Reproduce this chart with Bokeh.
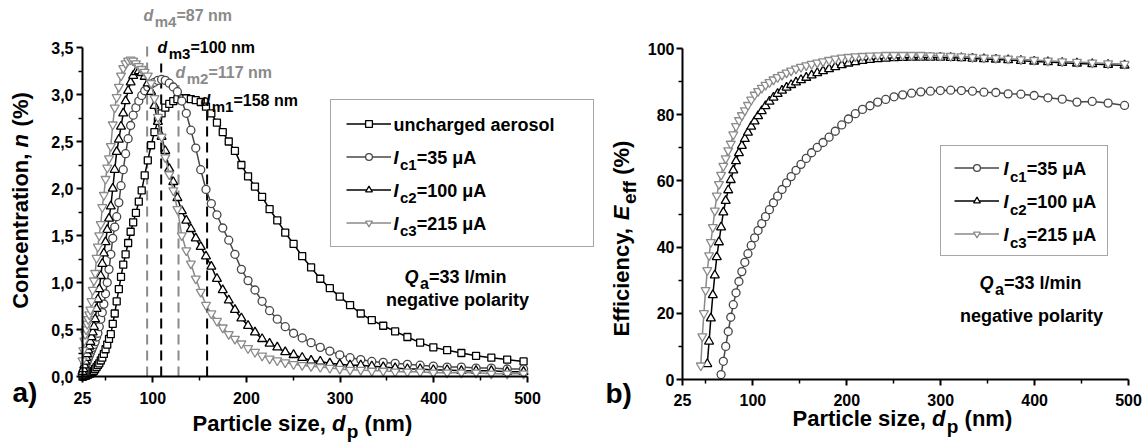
import math
from bokeh.plotting import figure
from bokeh.models import (Label, Legend, LegendItem, FixedTicker, LinearAxis, Range1d,
                          CustomJSTickFormatter, ColumnDataSource)
from bokeh.embed import file_html
from bokeh.resources import INLINE

FONT = "Liberation Sans"

# ---------------- data ----------------
d_nm = [25.0, 25.9, 26.9, 27.9, 28.9, 30.0, 31.1, 32.2, 33.4, 34.6, 35.9, 37.2,
        38.5, 40.0, 41.4, 42.9, 44.5, 46.1, 47.8, 49.6, 51.4, 53.3, 55.2, 57.3,
        59.4, 61.5, 63.8, 66.1, 68.5, 71.0, 73.7, 76.4, 79.1, 82.0, 85.1, 88.2,
        91.4, 94.7, 98.2, 101.8, 105.5, 109.4, 113.4, 117.6, 121.9, 126.3, 131.0, 135.8,
        140.7, 145.9, 151.2, 156.8, 162.5, 168.5, 174.7, 181.1, 187.7, 194.6, 201.7, 209.1,
        216.7, 224.7, 232.9, 241.4, 250.3, 259.5, 269.0, 278.8, 289.0, 299.6, 310.6, 322.0,
        333.8, 346.0, 358.7, 371.8, 385.4, 399.5, 414.2, 429.4, 445.1, 461.4, 478.3, 495.8]

n_uncharged = [0.00, 0.00, 0.01, 0.01, 0.01, 0.02, 0.02, 0.03, 0.03, 0.04, 0.05, 0.06,
               0.08, 0.10, 0.12, 0.14, 0.17, 0.20, 0.24, 0.29, 0.34, 0.40, 0.45, 0.56,
               0.67, 0.80, 0.93, 1.06, 1.19, 1.30, 1.42, 1.54, 1.64, 1.74, 1.86, 1.98,
               2.14, 2.30, 2.46, 2.60, 2.72, 2.80, 2.86, 2.90, 2.93, 2.95, 2.96, 2.96,
               2.95, 2.94, 2.92, 2.87, 2.80, 2.70, 2.60, 2.50, 2.40, 2.25, 2.13, 2.02,
               1.91, 1.78, 1.66, 1.53, 1.41, 1.28, 1.16, 1.04, 0.94, 0.85, 0.76, 0.67,
               0.60, 0.54, 0.48, 0.42, 0.36, 0.31, 0.28, 0.25, 0.22, 0.20, 0.18, 0.16]

n_ic1 = [0.03, 0.05, 0.07, 0.10, 0.13, 0.16, 0.19, 0.22, 0.25, 0.28, 0.31, 0.34,
         0.37, 0.42, 0.46, 0.53, 0.61, 0.68, 0.77, 0.88, 1.00, 1.14, 1.30, 1.47,
         1.59, 1.70, 1.85, 2.03, 2.20, 2.37, 2.53, 2.67, 2.78, 2.86, 2.93, 2.99,
         3.04, 3.08, 3.11, 3.13, 3.15, 3.16, 3.15, 3.12, 3.08, 3.03, 2.93, 2.80,
         2.62, 2.43, 2.20, 1.99, 1.84, 1.72, 1.58, 1.45, 1.30, 1.14, 1.02, 0.92,
         0.80, 0.70, 0.61, 0.53, 0.46, 0.41, 0.36, 0.31, 0.27, 0.23, 0.20, 0.18,
         0.16, 0.15, 0.14, 0.13, 0.12, 0.11, 0.10, 0.10, 0.09, 0.09, 0.08, 0.08]

n_ic2 = [0.05, 0.08, 0.12, 0.16, 0.20, 0.24, 0.28, 0.32, 0.37, 0.42, 0.47, 0.53,
         0.61, 0.72, 0.82, 0.93, 1.07, 1.20, 1.31, 1.43, 1.56, 1.68, 1.81, 2.00,
         2.20, 2.39, 2.52, 2.66, 2.80, 2.93, 3.04, 3.13, 3.20, 3.24, 3.25, 3.23,
         3.19, 3.12, 3.03, 2.88, 2.71, 2.55, 2.40, 2.21, 2.07, 1.90, 1.76, 1.66,
         1.57, 1.47, 1.38, 1.28, 1.17, 1.04, 0.92, 0.81, 0.71, 0.62, 0.54, 0.47,
         0.40, 0.35, 0.31, 0.26, 0.23, 0.20, 0.17, 0.16, 0.14, 0.13, 0.12, 0.12,
         0.11, 0.10, 0.09, 0.08, 0.08, 0.07, 0.07, 0.06, 0.06, 0.06, 0.05, 0.05]

n_ic3 = [0.17, 0.28, 0.38, 0.45, 0.50, 0.56, 0.61, 0.66, 0.71, 0.80, 0.92, 1.02,
         1.10, 1.26, 1.38, 1.50, 1.62, 1.80, 1.93, 2.10, 2.22, 2.32, 2.45, 2.68,
         2.86, 2.97, 3.08, 3.20, 3.28, 3.33, 3.36, 3.37, 3.36, 3.33, 3.30, 3.27,
         3.24, 3.20, 3.12, 2.96, 2.76, 2.55, 2.33, 2.15, 1.98, 1.78, 1.50, 1.34,
         1.20, 1.04, 0.90, 0.76, 0.67, 0.59, 0.52, 0.45, 0.40, 0.35, 0.30, 0.26,
         0.22, 0.19, 0.17, 0.15, 0.13, 0.12, 0.11, 0.10, 0.09, 0.08, 0.07, 0.07,
         0.06, 0.06, 0.05, 0.05, 0.05, 0.04, 0.04, 0.04, 0.04, 0.03, 0.03, 0.03]

# efficiency curves (each starts at the channel where E first rises above 0)
eff_ic1 = [1.5, 5.5, 10.0, 14.5, 18.8, 22.6, 26.2, 29.6, 32.6, 35.4, 38.0, 40.5,
           42.8, 45.0, 47.1, 49.2, 51.3, 53.4, 55.4, 57.4, 59.4, 61.3, 63.2, 65.0,
           66.8, 68.5, 70.1, 71.6, 73.2, 75.0, 76.9, 78.7, 80.3, 81.6, 82.7, 83.8,
           84.6, 85.4, 86.0, 86.5, 86.9, 87.1, 87.3, 87.4, 87.3, 87.1, 86.8, 86.7,
           86.3, 86.2, 85.8, 85.1, 84.7, 83.8, 84.0, 83.5, 82.8]
eff_ic2 = [4.7, 11.5, 18.5, 25.5, 31.5, 37.0, 41.5, 46.0, 50.5, 54.0, 57.2, 60.3,
           63.2, 66.0, 68.4, 70.6, 72.7, 74.6, 76.4, 78.0, 79.6, 81.1, 82.6, 84.0,
           85.2, 86.3, 87.3, 88.2, 89.0, 89.8, 90.5, 91.2, 91.9, 92.6, 93.2, 93.8,
           94.4, 95.0, 95.5, 95.9, 96.3, 96.6, 96.8, 97.0, 97.1, 97.2, 97.3, 97.3,
           97.3, 97.3, 97.2, 97.1, 97.0, 96.8, 96.7, 96.5, 96.3, 96.1, 95.9, 95.7,
           95.5, 95.3, 95.1, 94.9]
eff_ic3 = [4.2, 13.0, 20.0, 27.0, 33.0, 37.5, 41.5, 46.0, 51.0, 55.5, 59.0, 61.8,
           64.5, 66.8, 69.2, 71.2, 74.0, 76.5, 78.3, 79.8, 81.3, 82.9, 84.5, 86.0,
           87.1, 88.1, 89.0, 89.8, 90.6, 91.3, 92.0, 92.7, 93.3, 93.9, 94.4, 94.9,
           95.3, 95.7, 96.1, 96.5, 96.9, 97.2, 97.4, 97.6, 97.7, 97.8, 97.9, 98.0,
           98.0, 98.0, 98.0, 98.0, 97.9, 97.8, 97.7, 97.6, 97.4, 97.2, 97.1, 96.9,
           96.7, 96.5, 96.3, 96.1, 95.9, 95.7, 95.5, 95.3]

x_ticks = [25, 100, 200, 300, 400, 500]
x_minor = [50, 150, 250, 350, 450]
n_ticks = [0, 0.5, 1.0, 1.5, 2.0, 2.5, 3.0, 3.5]
n_minor = [0.25, 0.75, 1.25, 1.75, 2.25, 2.75, 3.25]
e_ticks = [0, 20, 40, 60, 80, 100]
e_minor = [10, 30, 50, 70, 90]

dm_pos = [94, 109, 127.5, 158]
dm_top = [3.55, 3.33, 3.1, 2.85]
dm_sub = ["m4", "m3", "m2", "m1"]
dm_text = ["=87 nm", "=100 nm", "=117 nm", "=158 nm"]

ic_sub = ["c1", "c2", "c3"]
ic_text = ["=35 μA", "=100 μA", "=215 μA"]

C_UNC, C_IC1, C_IC2, C_IC3 = "#000000", "#474747", "#000000", "#8a8a8a"
DM_COLORS = [C_IC3, "#000000", C_IC3, "#000000"]

# ---------------- geometry (canvas pixels) ----------------
CW, CH = 1148, 445
L_X0, L_X1, L_Y0, L_Y1 = 82, 527, 376, 47      # left panel data box
R_X0, R_X1, R_Y0, R_Y1 = 682, 1128, 379, 48    # right panel data box
XR = (25, 500)
YL = (0, 3.5)
YR = (0, 100)


def span(p0, p1, v0, v1, lo, hi):
    k = (v1 - v0) / (p1 - p0)
    return v0 + (lo - p0) * k, v0 + (hi - p0) * k


lx = span(L_X0, L_X1, XR[0], XR[1], 0, CW)
ly = span(L_Y0, L_Y1, YL[0], YL[1], CH, 0)
rx = span(R_X0, R_X1, XR[0], XR[1], 0, CW)
ry = span(R_Y0, R_Y1, YR[0], YR[1], CH, 0)

# ---------------- text helpers ----------------
W = {' ': 278, '!': 333, '%': 889, '(': 333, ')': 333, ',': 278, '.': 278, '/': 278,
     '=': 584, 'A': 722, 'C': 722, 'E': 667, 'I': 278, 'P': 667, 'Q': 778,
     'a': 556, 'b': 611, 'c': 556, 'd': 611, 'e': 556, 'f': 333, 'g': 611, 'h': 611,
     'i': 278, 'l': 278, 'm': 889, 'n': 611, 'o': 611, 'p': 611, 'r': 389, 's': 556,
     't': 333, 'u': 611, 'v': 556, 'y': 556, 'z': 500, 'μ': 600}
for _c in "0123456789":
    W[_c] = 556


def tw(s, size):
    return sum(W.get(ch, 556) for ch in s) * size / 1000.0


def cv(px, py):
    x = lx[0] + px / CW * (lx[1] - lx[0])
    y = ly[0] + (CH - py) / CH * (ly[1] - ly[0])
    return x, y


def rich(p, px, py, parts, size, sub_size, sub_dy, color="black",
         align="left", vertical=False):
    widths = []
    for t, k in parts:
        s = sub_size if k == 's' else size
        widths.append(tw(t, s) + (1.5 if k == 'i' else 0))
    total = sum(widths)
    if vertical:
        cur = py + total / 2.0 if align == "center" else py
    else:
        cur = px - total / 2.0 if align == "center" else px
    for (t, k), w in zip(parts, widths):
        s = sub_size if k == 's' else size
        style = "bold italic" if k == 'i' else "bold"
        lead = len(t) - len(t.lstrip(" "))
        shift = tw(" " * lead, s)
        txt = t.strip(" ")
        if vertical:
            x, y = cv(px + (sub_dy if k == 's' else 0), cur - shift)
            ang = math.pi / 2
            cur -= w
        else:
            x, y = cv(cur + shift, py + (sub_dy if k == 's' else 0))
            ang = 0
            cur += w
        p.add_layout(Label(x=x, y=y, text=txt, text_font=FONT,
                           text_font_size=f"{s}px", text_font_style=style,
                           text_color=color, text_baseline="middle",
                           text_align="left", angle=ang, level="overlay"))


def style_axis(ax):
    ax.axis_line_width = 2
    ax.axis_line_color = "black"
    ax.major_tick_line_width = 2
    ax.minor_tick_line_width = 1.5
    ax.major_tick_in = 0
    ax.major_tick_out = 6
    ax.minor_tick_in = 0
    ax.minor_tick_out = 4
    ax.major_label_text_font = FONT
    ax.major_label_text_font_style = "bold"
    ax.major_label_text_font_size = "16px"
    ax.major_label_text_color = "black"


# ---------------- figure ----------------
p = figure(width=CW, height=CH, x_range=Range1d(*lx), y_range=Range1d(*ly),
           min_border=0, title=None, output_backend="svg", toolbar_location=None,
           background_fill_color="white", border_fill_color="white")
p.extra_x_ranges = {"r": Range1d(*rx)}
p.extra_y_ranges = {"r": Range1d(*ry)}
p.grid.visible = False
p.outline_line_color = None

# left axes
xa = p.xaxis[0]
xa.fixed_location = 0
xa.bounds = XR
xa.ticker = FixedTicker(ticks=x_ticks, minor_ticks=x_minor)
style_axis(xa)
xa.major_label_standoff = 9
ya = p.yaxis[0]
ya.fixed_location = 25
ya.bounds = YL
ya.ticker = FixedTicker(ticks=n_ticks, minor_ticks=n_minor)
ya.formatter = CustomJSTickFormatter(code="return tick.toFixed(1).replace('.', ',');")
style_axis(ya)
ya.major_label_standoff = 3

# right axes
xb = LinearAxis(x_range_name="r", y_range_name="r", fixed_location=0, bounds=XR,
                ticker=FixedTicker(ticks=x_ticks, minor_ticks=x_minor))
style_axis(xb)
xb.major_label_standoff = 8
p.add_layout(xb, "below")
yb = LinearAxis(x_range_name="r", y_range_name="r", fixed_location=25, bounds=YR,
                ticker=FixedTicker(ticks=e_ticks, minor_ticks=e_minor))
style_axis(yb)
yb.major_label_standoff = 2
p.add_layout(yb, "left")

# ---- left panel: size distributions ----
dm_src = ColumnDataSource(dict(x=dm_pos, y0=[0] * len(dm_pos), y1=dm_top, c=DM_COLORS))
p.segment(x0="x", y0="y0", x1="x", y1="y1", line_color="c", line_width=2,
          line_dash="10 6", source=dm_src)

series1 = [
    (n_uncharged, "square", 7, C_UNC),
    (n_ic1, "circle", 8, C_IC1),
    (n_ic2, "triangle", 9, C_IC2),
    (n_ic3, "inverted_triangle", 9, C_IC3),
]
items1 = []
for ys, mk, sz, col in series1:
    rl = p.line(d_nm, ys, line_color=col, line_width=1.5)
    rs = p.scatter(d_nm, ys, marker=mk, size=sz, fill_color="white", line_color=col,
                   line_width=1.3)
    items1.append(LegendItem(label=" ", renderers=[rl, rs]))

LEG_BORDER = "#4d4d4d"
# legend box: x 330..587, y 100..247 (canvas px)
leg1 = Legend(items=items1, location=(330, CH - 247), padding=15, spacing=16, margin=0,
              glyph_width=45, glyph_height=17, label_height=17, label_width=182,
              label_standoff=5, border_line_color=LEG_BORDER, border_line_width=1,
              background_fill_alpha=0.0, label_text_font_size="1px")
p.add_layout(leg1)

rows1 = [124, 157, 190, 223]
rich(p, 393, rows1[0], [("uncharged aerosol", 'n')], 18, 15, 7)
for i in range(3):
    rich(p, 393, rows1[i + 1], [("I", 'i'), (ic_sub[i], 's'), (ic_text[i], 'n')], 18, 15, 7)

dm_px = [(143, 15), (157, 47), (175, 72), (200, 100)]
for i in range(4):
    px, py = dm_px[i]
    rich(p, px, py, [("d", 'i'), (dm_sub[i], 's'), (dm_text[i], 'n')], 16, 15, 6,
         color=DM_COLORS[i])

rich(p, 455, 276, [("Q", 'i'), ("a", 's'), ("=33 l/min", 'n')], 18, 16, 7, align="center")
rich(p, 457, 299, [("negative polarity", 'n')], 18, 16, 7, align="center")
rich(p, 192, 423, [("Particle size, ", 'n'), ("d", 'i'), ("p", 's'), (" (nm)", 'n')], 22, 19, 8)
rich(p, 20, 200, [("Concentration, ", 'n'), ("n", 'i'), (" (%)", 'n')], 22, 19, 8,
     align="center", vertical=True)
rich(p, 12, 392, [("a)", 'n')], 28, 28, 0)

# ---- right panel: efficiency ----
series2 = [
    (eff_ic1, "circle", 8, C_IC1),
    (eff_ic2, "triangle", 9, C_IC2),
    (eff_ic3, "inverted_triangle", 9, C_IC3),
]
items2 = []
for ys, mk, sz, col in series2:
    xs = d_nm[len(d_nm) - len(ys):]
    rl = p.line(xs, ys, line_color=col, line_width=1.5, x_range_name="r", y_range_name="r")
    rs = p.scatter(xs, ys, marker=mk, size=sz, fill_color="white", line_color=col,
                   line_width=1.3, x_range_name="r", y_range_name="r")
    items2.append(LegendItem(label=" ", renderers=[rl, rs]))

# legend box: x 940..1106, y 147..256
leg2 = Legend(items=items2, location=(940, CH - 256), padding=13, spacing=16, margin=0,
              glyph_width=45, glyph_height=17, label_height=17, label_width=90,
              label_standoff=5, border_line_color=LEG_BORDER, border_line_width=1,
              background_fill_alpha=0.0, label_text_font_size="1px")
p.add_layout(leg2)

rows2 = [168.5, 201.5, 234.5]
for i in range(3):
    rich(p, 1003, rows2[i], [("I", 'i'), (ic_sub[i], 's'), (ic_text[i], 'n')], 18, 15, 7)

rich(p, 1030, 282, [("Q", 'i'), ("a", 's'), ("=33 l/min", 'n')], 18, 16, 7, align="center")
rich(p, 1031, 315, [("negative polarity", 'n')], 18, 16, 7, align="center")
rich(p, 792, 418, [("Particle size, ", 'n'), ("d", 'i'), ("p", 's'), (" (nm)", 'n')], 22, 19, 8)
rich(p, 621, 238, [("Efficiency, ", 'n'), ("E", 'i'), ("eff", 's'), (" (%)", 'n')], 22, 19, 8,
     align="center", vertical=True)
rich(p, 605, 393, [("b)", 'n')], 28, 28, 0)

open("out.html", "w").write(file_html(p, INLINE))
